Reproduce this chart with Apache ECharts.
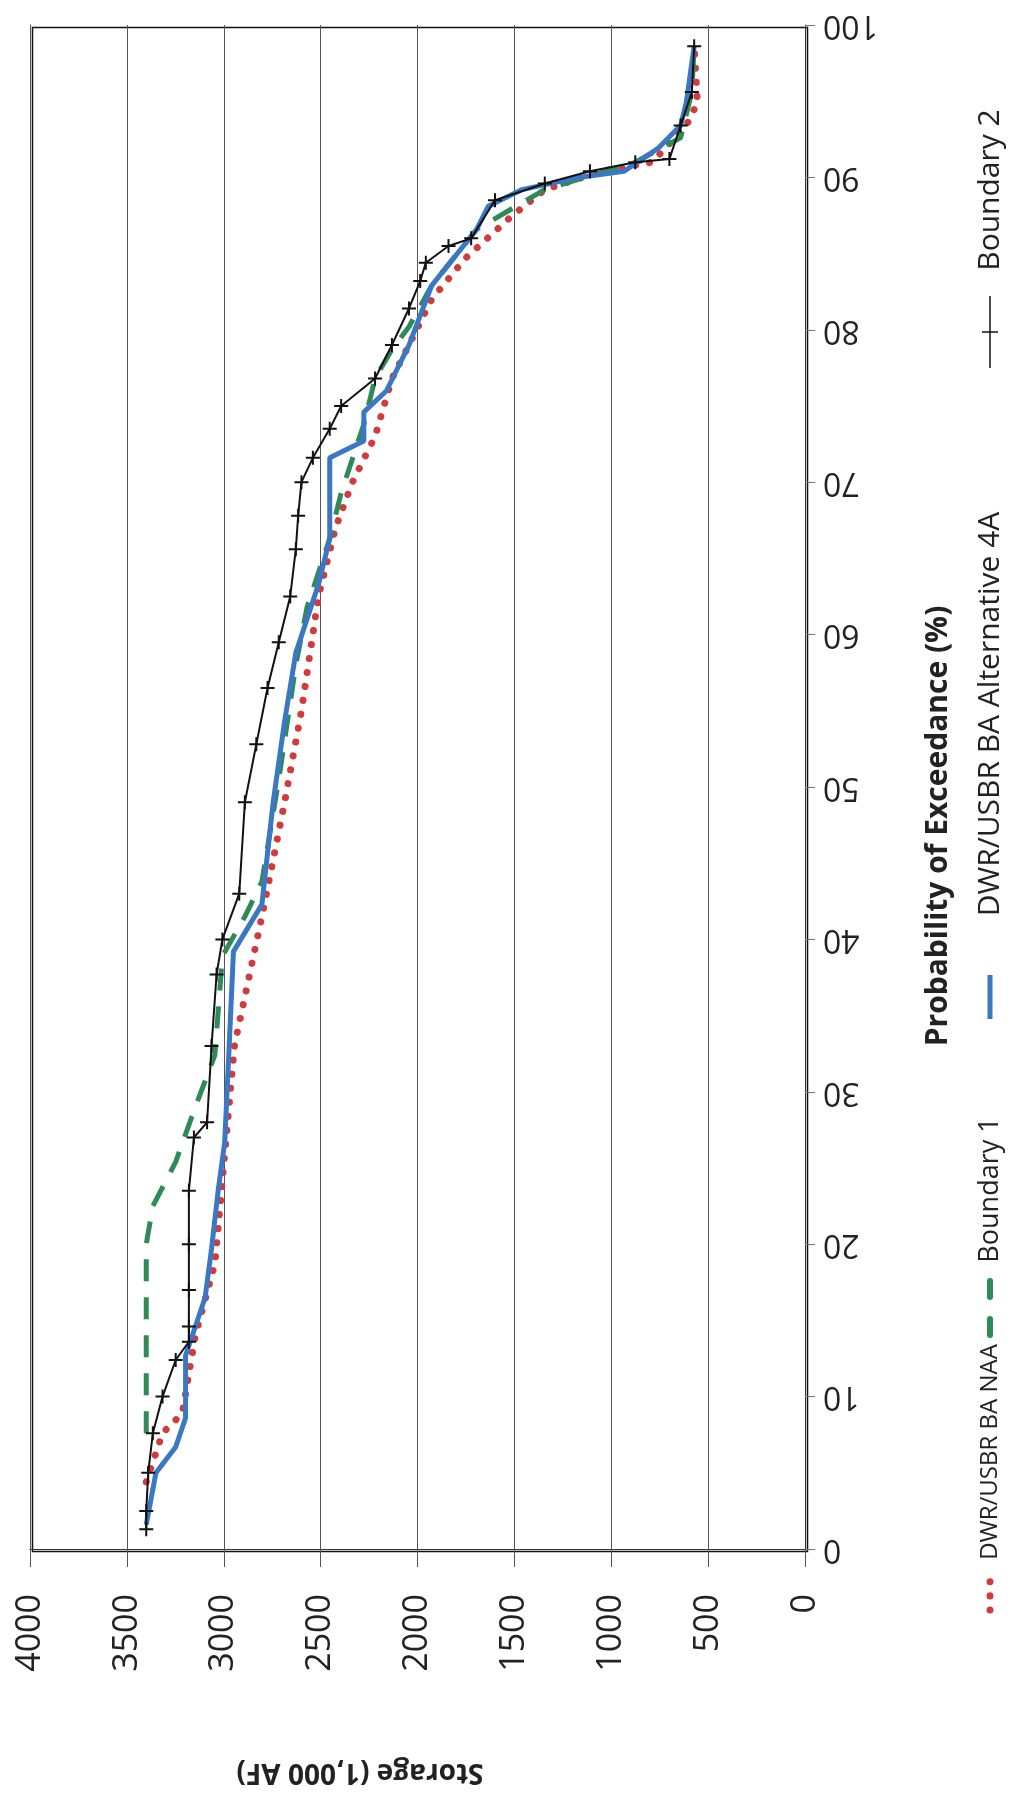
<!DOCTYPE html>
<html>
<head>
<meta charset="utf-8">
<script src="https://cdn.jsdelivr.net/npm/echarts@6/dist/echarts.min.js"></script>
<style>html,body{margin:0;background:#fff}#main{width:1013px;height:1799px}</style>
</head>
<body>
<div id="main"></div>
<script>
// [storage (1,000 AF), probability of exceedance (%)]
var naa = [[3400,4.4],[3316,7.6],[3214,8.9],[3147,14],[3046,18.7],[3012,23.5],[2945,33],[2803,41.5],[2686,49],[2599,55],[2511,62.5],[2423,67],[2336,70],[2219,73],[2132,76.8],[2044,79],[1927,82],[1752,84.7],[1519,87.4],[1343,89.2],[1051,90.4],[788,91],[613,93.4],[555,94.9],[572,98.6]];
var boundary1 = [[3400,7.6],[3400,20],[3366,22.5],[3248,25.4],[3147,29],[3046,32.4],[3007,38.9],[2891,41.5],[2803,43.8],[2716,50.5],[2628,58],[2570,61.8],[2453,66.3],[2394,69.3],[2277,73.8],[2219,76.8],[2132,78.7],[2044,80.2],[1927,82.9],[1694,86.6],[1343,89.2],[876,91],[642,92.6],[584,95.6],[572,98.6]];
var alt4a = [[3400,1.6],[3350,5],[3248,6.7],[3197,8.6],[3197,12.7],[3096,16.5],[3063,19.7],[3029,23.5],[2995,26.7],[2972,33],[2950,39.2],[2803,42.3],[2745,49],[2686,54.3],[2628,58.8],[2511,63.3],[2453,66.3],[2453,71.6],[2277,72.7],[2277,74.6],[2160,76],[2044,79],[1927,82.9],[1694,86.6],[1635,88.1],[1460,89.2],[1168,90],[935,90.4],[759,91.9],[642,93.4],[613,94.9],[572,98.6]];
var boundary2 = [[3400,1.3],[3400,2.5],[3390,5],[3366,7.6],[3316,10],[3248,12.4],[3180,13.6],[3180,14.6],[3180,17],[3180,20],[3180,23.5],[3154,27],[3086,28],[3063,33],[3037,37.7],[3007,40],[2920,43],[2891,49],[2832,52.8],[2774,56.5],[2716,59.5],[2657,62.5],[2628,65.6],[2616,67.8],[2599,70],[2540,71.6],[2453,73.5],[2394,75],[2219,76.8],[2132,79],[2044,81.4],[1986,83.2],[1957,84.4],[1840,85.5],[1723,86],[1600,88.5],[1343,89.6],[1110,90.4],[876,91],[700,91.2],[642,93.4],[584,95.6],[572,98.6]];
var storageTicks = [0,500,1000,1500,2000,2500,3000,3500,4000];
var probTicks = [0,10,20,30,40,50,60,70,80,90,100];

var plus = 'path://M5,0L5,10M0,5L10,5';
var chart = echarts.init(document.getElementById('main'));
var font = 'Open Sans, DejaVu Sans, sans-serif';
function legendText(y, s, size) {
    return {type: 'text', x: 990, y: y, rotation: Math.PI / 2,
        style: {text: s, font: size + 'px ' + font, fill: '#222', align: 'center', verticalAlign: 'middle'}};
}
chart.setOption({
    animation: false,
    grid: {left: 30, right: 208, top: 25, bottom: 250},
    xAxis: {
        type: 'value', inverse: true, min: 0, max: 4000, interval: 500,
        axisLine: {show: true, lineStyle: {color: '#333'}},
        axisTick: {show: true, length: 18, lineStyle: {color: '#555'}},
        axisLabel: {rotate: 90, fontSize: 34, color: '#222', fontFamily: font, margin: 45,
            formatter: function (v) { return String(v); }},
        splitLine: {show: true, lineStyle: {color: '#555', width: 1}}
    },
    yAxis: {
        type: 'value', position: 'right', min: 0, max: 100, interval: 10,
        axisLine: {show: true, lineStyle: {color: '#333'}},
        axisTick: {show: true, length: 10, lineStyle: {color: '#777'}},
        axisLabel: {rotate: 180, fontSize: 32, color: '#222', fontFamily: font, margin: 18},
        splitLine: {show: false}
    },
    graphic: [
        {type: 'rect', left: 30, top: 25, shape: {width: 775, height: 1524}, style: {fill: 'none', stroke: '#111', lineWidth: 1.5}, z: 0},
        {type: 'text', x: 360, y: 1772, rotation: Math.PI, style: {text: 'Storage (1,000 AF)', font: 'bold 28px ' + font, fill: '#222', align: 'center', verticalAlign: 'middle'}},
        {type: 'text', x: 938, y: 826, rotation: Math.PI / 2, style: {text: 'Probability of Exceedance (%)', font: 'bold 30px ' + font, fill: '#222', align: 'center', verticalAlign: 'middle'}},
        legendText(1452, 'DWR/USBR BA NAA', 24),
        legendText(1190, 'Boundary 1', 27),
        legendText(714, 'DWR/USBR BA Alternative 4A', 30),
        legendText(190, 'Boundary 2', 30),
        {type: 'line', shape: {x1: 990, y1: 1610, x2: 990, y2: 1568}, style: {stroke: '#d13b3b', lineWidth: 7, lineCap: 'round', lineDash: [0.1, 14]}},
        {type: 'line', shape: {x1: 990, y1: 1335, x2: 990, y2: 1268}, style: {stroke: '#2e8b57', lineWidth: 6, lineCap: 'round', lineDash: [16, 22]}},
        {type: 'line', shape: {x1: 990, y1: 1019, x2: 990, y2: 975}, style: {stroke: '#3a78c4', lineWidth: 5}},
        {type: 'line', shape: {x1: 990, y1: 368, x2: 990, y2: 296}, style: {stroke: '#111', lineWidth: 1.5}},
        {type: 'line', shape: {x1: 982, y1: 332, x2: 998, y2: 332}, style: {stroke: '#111', lineWidth: 1.5}}
    ],
    series: [
        {name: 'DWR/USBR BA NAA', type: 'line', data: naa, showSymbol: false, z: 2,
            lineStyle: {color: '#d13b3b', width: 7, cap: 'round', type: [0.1, 14]}},
        {name: 'Boundary 1', type: 'line', data: boundary1, showSymbol: false, z: 3,
            lineStyle: {color: '#2e8b57', width: 5, type: [22, 16]}},
        {name: 'DWR/USBR BA Alternative 4A', type: 'line', data: alt4a, showSymbol: false, z: 4,
            lineStyle: {color: '#3a78c4', width: 5}},
        {name: 'Boundary 2', type: 'line', data: boundary2, symbol: plus, symbolSize: 14, z: 5,
            itemStyle: {color: 'none', borderColor: '#111', borderWidth: 2},
            lineStyle: {color: '#111', width: 2}}
    ]
});
</script>
</body>
</html>
